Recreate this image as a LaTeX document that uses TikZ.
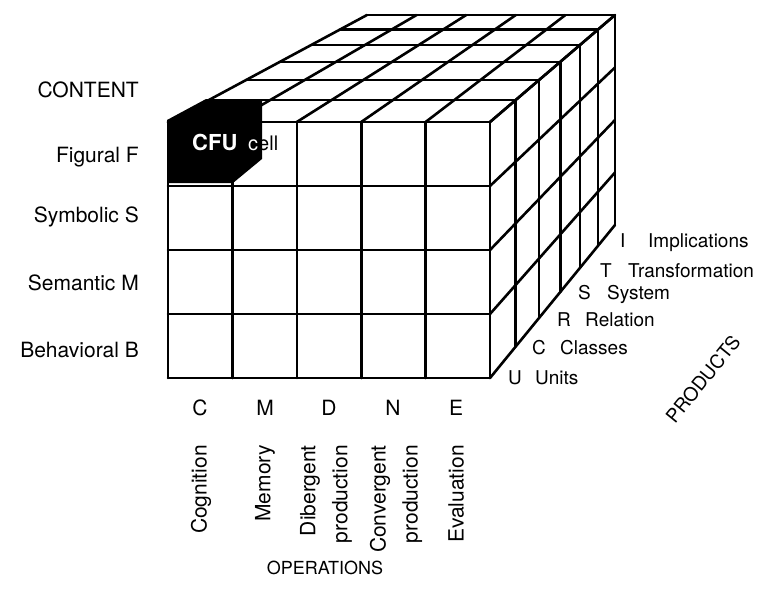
\documentclass[tikz,border=0pt]{standalone}
\usepackage{fontspec}
\setmainfont{TeX Gyre Heros}
\begin{document}
\begin{tikzpicture}[x=1pt,y=1pt,
  declare function={
    tz(\z)=(1-1/(1+0.047*\z))/(1-1/(1+0.282));
    px(\u,\z)=(1-tz(\z))*(168+64.4*\u)+tz(\z)*(367+49.6*\u);
    py(\v,\z)=-((1-tz(\z))*(122+64*\v)+tz(\z)*(15+52.5*\v));
  },
  gridline/.style={line width=2.6pt, line cap=round, line join=round},
  biglab/.style={inner sep=0pt, font=\fontsize{21}{25}\selectfont},
  prodlab/.style={inner sep=0pt, anchor=base west, font=\fontsize{19}{23}\selectfont},
  oplab/.style={inner sep=0pt, rotate=90, anchor=east, align=right,
                font=\fontsize{21}{32}\selectfont},
]
\useasboundingbox (0,0) rectangle (757,-608);

% front face grid (operations x content)
\foreach \u in {0,...,5}
  \draw[gridline] ({px(\u,0)},{py(0,0)}) -- ({px(\u,0)},{py(4,0)});
\foreach \v in {0,...,4}
  \draw[gridline] ({px(0,0)},{py(\v,0)}) -- ({px(5,0)},{py(\v,0)});
% top face grid
\foreach \u in {0,...,5}
  \draw[gridline] ({px(\u,0)},{py(0,0)}) -- ({px(\u,6)},{py(0,6)});
\foreach \z in {0,...,6}
  \draw[gridline] ({px(0,\z)},{py(0,\z)}) -- ({px(5,\z)},{py(0,\z)});
% right face grid (products)
\foreach \v in {0,...,4}
  \draw[gridline] ({px(5,0)},{py(\v,0)}) -- ({px(5,6)},{py(\v,6)});
\foreach \z in {0,...,6}
  \draw[gridline] ({px(5,\z)},{py(0,\z)}) -- ({px(5,\z)},{py(4,\z)});

% the highlighted CFU cell
\fill[black, line join=round] (167,-120) -- (206,-99) -- (262,-99) -- (262,-159)
  -- (233,-183) -- (167,-183) -- cycle;
\node[inner sep=0pt, anchor=base west, text=white,
      font=\fontsize{22}{26}\selectfont\bfseries] (cfu) at (192,-150) {CFU};
\node[inner sep=0pt, anchor=base west, font=\fontsize{20}{24}\selectfont]
  (cellw) at (248,-150) {\textcolor{white}{c}ell};

% content labels
\node[biglab, anchor=east] (content) at (139,-90) {CONTENT};
\node[biglab, anchor=east] (figural) at (139,-157) {Figural F};
\node[biglab, anchor=east] (symbolic) at (139,-217) {Symbolic S};
\node[biglab, anchor=east] (semantic) at (139,-283) {Semantic M};
\node[biglab, anchor=east] (behavioral) at (139,-350) {Behavioral B};

% operation letters
\node[biglab] (opC) at (200,-408) {C};
\node[biglab] (opM) at (265,-408) {M};
\node[biglab] (opD) at (329,-408) {D};
\node[biglab] (opN) at (393,-408) {N};
\node[biglab] (opE) at (456,-408) {E};

% operation names
\node[oplab] (cog) at (201,-445) {Cognition};
\node[oplab] (mem) at (265,-445) {Memory};
\node[oplab] (div) at (326,-445) {Dibergent\\production};
\node[oplab] (conv) at (396,-445) {Convergent\\production};
\node[oplab] (eval) at (456,-445) {Evaluation};

\node[inner sep=0pt, font=\fontsize{18}{22}\selectfont] (operations) at (325,-568) {OPERATIONS};

% product labels
\node[prodlab] (pU) at (508,-384) {U};
\node[prodlab] (pUw) at (535,-384) {Units};
\node[prodlab] (pC) at (532,-354) {C};
\node[prodlab] (pCw) at (560,-354) {Classes};
\node[prodlab] (pR) at (557,-326) {R};
\node[prodlab] (pRw) at (585,-326) {Relation};
\node[prodlab] (pS) at (578,-299) {S};
\node[prodlab] (pSw) at (607,-299) {System};
\node[prodlab] (pT) at (600,-277) {T};
\node[prodlab] (pTw) at (628,-277) {Transformation};
\node[prodlab] (pI) at (620,-247) {I};
\node[prodlab] (pIw) at (648,-247) {Implications};

\node[inner sep=0pt, rotate=51, font=\fontsize{19}{23}\selectfont] (products) at (703,-379) {PRODUCTS};
\end{tikzpicture}
\end{document}
